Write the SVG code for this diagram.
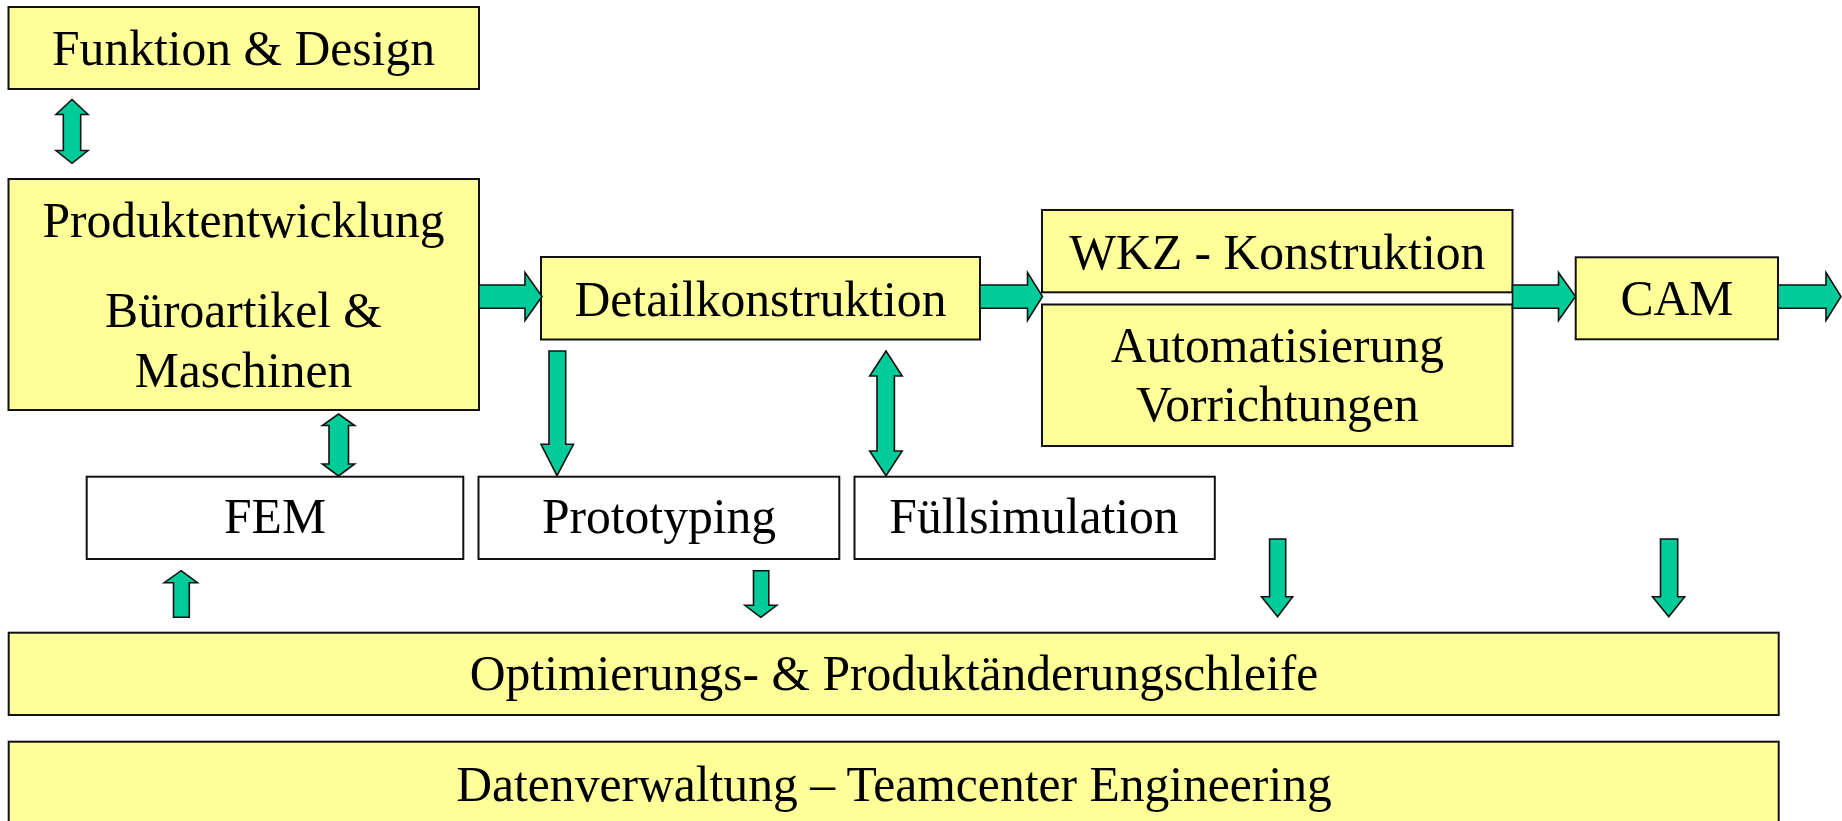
<svg xmlns="http://www.w3.org/2000/svg" width="1842" height="821" viewBox="0 0 1842 821">
<style>
.box{fill:#FFFF99;stroke:#111;stroke-width:2}
.wbox{fill:#FFFFFF;stroke:#111;stroke-width:2}
.arr{fill:#00CC99;stroke:#111;stroke-width:1.6;stroke-linejoin:miter}
.t{font-family:"Liberation Serif","Times New Roman",serif;font-size:49.6px;fill:#000;text-anchor:middle}
</style>
<rect x="0" y="0" width="1842" height="821" fill="#FFFFFF"/>
<g id="funktion-design">
<rect class="box" x="8.5" y="7" width="470.5" height="82"/>
<text class="t" x="243.5" y="65">Funktion &amp; Design</text>
</g>
<g id="produktentwicklung">
<rect class="box" x="8.5" y="179" width="470.5" height="231"/>
<text class="t" x="243.5" y="237.3">Produktentwicklung</text>
<text class="t" x="243.5" y="326.7">Büroartikel &amp;</text>
<text class="t" x="243.5" y="386.7">Maschinen</text>
</g>
<g id="detailkonstruktion">
<rect class="box" x="541" y="257" width="439" height="82.5"/>
<text class="t" x="760.5" y="316">Detailkonstruktion</text>
</g>
<g id="wkz-konstruktion">
<rect class="box" x="1042" y="210" width="470.5" height="82.3"/>
<text class="t" x="1277.3" y="268.5">WKZ - Konstruktion</text>
</g>
<g id="automatisierung">
<rect class="box" x="1042" y="304.5" width="470.5" height="141.5"/>
<text class="t" x="1277.3" y="361.5">Automatisierung</text>
<text class="t" x="1277.3" y="421">Vorrichtungen</text>
</g>
<g id="cam">
<rect class="box" x="1575.7" y="257.3" width="202.3" height="82"/>
<text class="t" x="1676.9" y="315">CAM</text>
</g>
<g id="fem">
<rect class="wbox" x="86.7" y="476.7" width="376.6" height="82.3"/>
<text class="t" x="275" y="533.3">FEM</text>
</g>
<g id="prototyping">
<rect class="wbox" x="478.5" y="476.7" width="360.8" height="82.3"/>
<text class="t" x="659" y="533.3">Prototyping</text>
</g>
<g id="fuellsimulation">
<rect class="wbox" x="854.5" y="476.7" width="360.3" height="82.3"/>
<text class="t" x="1034" y="533.3">Füllsimulation</text>
</g>
<g id="optimierung">
<rect class="box" x="8.7" y="632.7" width="1770" height="82.3"/>
<text class="t" x="894" y="690">Optimierungs- &amp; Produktänderungschleife</text>
</g>
<g id="datenverwaltung">
<rect class="box" x="8.7" y="741.7" width="1770" height="84"/>
<text class="t" x="894" y="801">Datenverwaltung – Teamcenter Engineering</text>
</g>
<g id="connectors">
<!-- horizontal right arrows -->
<polygon class="arr" points="479,285 525,285 525,272.5 542,296.5 525,320.5 525,308.3 479,308.3"/>
<polygon class="arr" points="980,285 1027.5,285 1027.5,272.5 1042.5,296.5 1027.5,320.5 1027.5,308.3 980,308.3"/>
<polygon class="arr" points="1512.5,285 1558.5,285 1558.5,272.5 1575.5,296.5 1558.5,320.5 1558.5,308.3 1512.5,308.3"/>
<polygon class="arr" points="1778,285 1826,285 1826,272.5 1841,296.5 1826,320.5 1826,308.3 1778,308.3"/>
<!-- vertical double arrows -->
<polygon class="arr" points="72,99.5 88,114.5 80.7,114.5 80.7,150.5 88,150.5 72,163.3 56,150.5 63.3,150.5 63.3,114.5 56,114.5"/>
<polygon class="arr" points="338.5,414 354.6,425.5 348.5,425.5 348.5,464 354.6,464 338.5,476 322.4,464 329,464 329,425.5 322.4,425.5"/>
<polygon class="arr" points="886,351 902.2,376 894.4,376 894.4,451 902.2,451 886,475.7 869.7,451 877,451 877,376 869.7,376"/>
<!-- down arrows -->
<polygon class="arr" points="549,351 565.7,351 565.7,444.3 573.5,444.3 557,475.7 541,444.3 549,444.3"/>
<polygon class="arr" points="753.5,570.7 768.8,570.7 768.8,605.3 776.7,605.3 760.8,617.3 744.9,605.3 753.5,605.3"/>
<polygon class="arr" points="1269.6,539 1285.7,539 1285.7,596.7 1292.7,596.7 1277.6,616.7 1261.5,596.7 1269.6,596.7"/>
<polygon class="arr" points="1660.5,539 1677.7,539 1677.7,596.7 1684.7,596.7 1668.8,616.7 1652.5,596.7 1660.5,596.7"/>
<!-- up arrow -->
<polygon class="arr" points="181.1,570.7 197.4,582.7 189.3,582.7 189.3,617.3 173.5,617.3 173.5,582.7 164.3,582.7"/>
</g>
</svg>
